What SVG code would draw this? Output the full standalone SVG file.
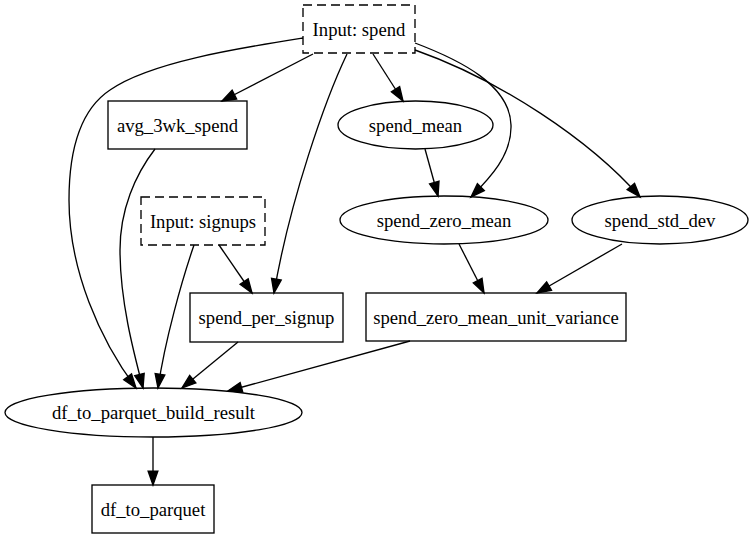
<svg xmlns="http://www.w3.org/2000/svg" width="753" height="539" viewBox="0 0 753 539">
<style>
.n{fill:none;stroke:#000;stroke-width:1.33}
.d{stroke-dasharray:9,5}
text{font-family:"Liberation Serif","DejaVu Serif",serif;font-size:18.67px;text-anchor:middle;fill:#000}
.e{fill:none;stroke:#000;stroke-width:1.33;marker-end:url(#ah)}
</style>
<defs>
<marker id="ah" markerUnits="userSpaceOnUse" markerWidth="16" markerHeight="12" viewBox="-1 -1 15.33 11.33" refX="13.33" refY="4.67" orient="auto" overflow="visible">
<path d="M0,0 L13.33,4.67 L0,9.33 Z" fill="#000" stroke="#000" stroke-width="1.33"/>
</marker>
</defs>
<rect width="753" height="539" fill="#fff"/>
<g id="connectors">
<path class="e" d="M313,54 L222,101"/>
<path class="e" d="M303,38 C240,48 150,62 110,90 C80,110 69,150 69,200 C69,270 100,340 136,388"/>
<path class="e" d="M347,54 C325,100 290,200 274,293"/>
<path class="e" d="M373,54 L403,101"/>
<path class="e" d="M415,43 C460,60 510,85 511,125 C512,155 490,178 471,197"/>
<path class="e" d="M415,50 C500,80 590,140 640,197"/>
<path class="e" d="M155,149 C135,175 120,210 120,250 C120,300 133,350 143,388"/>
<path class="e" d="M425,149 L438,196"/>
<path class="e" d="M194,245 C182,280 165,340 158,388"/>
<path class="e" d="M219,245 L252,293"/>
<path class="e" d="M238,342 L182,388"/>
<path class="e" d="M459,244 L484,293"/>
<path class="e" d="M622,244 L537,293"/>
<path class="e" d="M410,341 L228,391"/>
<path class="e" d="M153,437 L153,485"/>
</g>
<g id="input_spend"><rect class="n d" x="303" y="5" width="112" height="48"/><text x="359" y="35.5">Input: spend</text></g>
<g id="avg_3wk_spend"><rect class="n" x="108" y="101" width="139" height="48"/><text x="177.5" y="131.5">avg_3wk_spend</text></g>
<g id="spend_mean"><ellipse class="n" cx="415.5" cy="125" rx="77.5" ry="24"/><text x="415.5" y="131.5">spend_mean</text></g>
<g id="spend_zero_mean"><ellipse class="n" cx="444" cy="220" rx="104" ry="24"/><text x="444" y="226.5">spend_zero_mean</text></g>
<g id="spend_std_dev"><ellipse class="n" cx="660" cy="220" rx="88" ry="24"/><text x="660" y="226.5">spend_std_dev</text></g>
<g id="input_signups"><rect class="n d" x="141" y="197" width="124" height="48"/><text x="203" y="227.5">Input: signups</text></g>
<g id="spend_per_signup"><rect class="n" x="190" y="293" width="153" height="49"/><text x="266.5" y="323.5">spend_per_signup</text></g>
<g id="spend_zero_mean_unit_variance"><rect class="n" x="366" y="293" width="260" height="48"/><text x="496" y="323.5">spend_zero_mean_unit_variance</text></g>
<g id="df_to_parquet_build_result"><ellipse class="n" cx="153.5" cy="412.5" rx="148.5" ry="24.5"/><text x="153.5" y="419">df_to_parquet_build_result</text></g>
<g id="df_to_parquet"><rect class="n" x="92" y="485" width="122" height="48"/><text x="153" y="515.5">df_to_parquet</text></g>
</svg>
